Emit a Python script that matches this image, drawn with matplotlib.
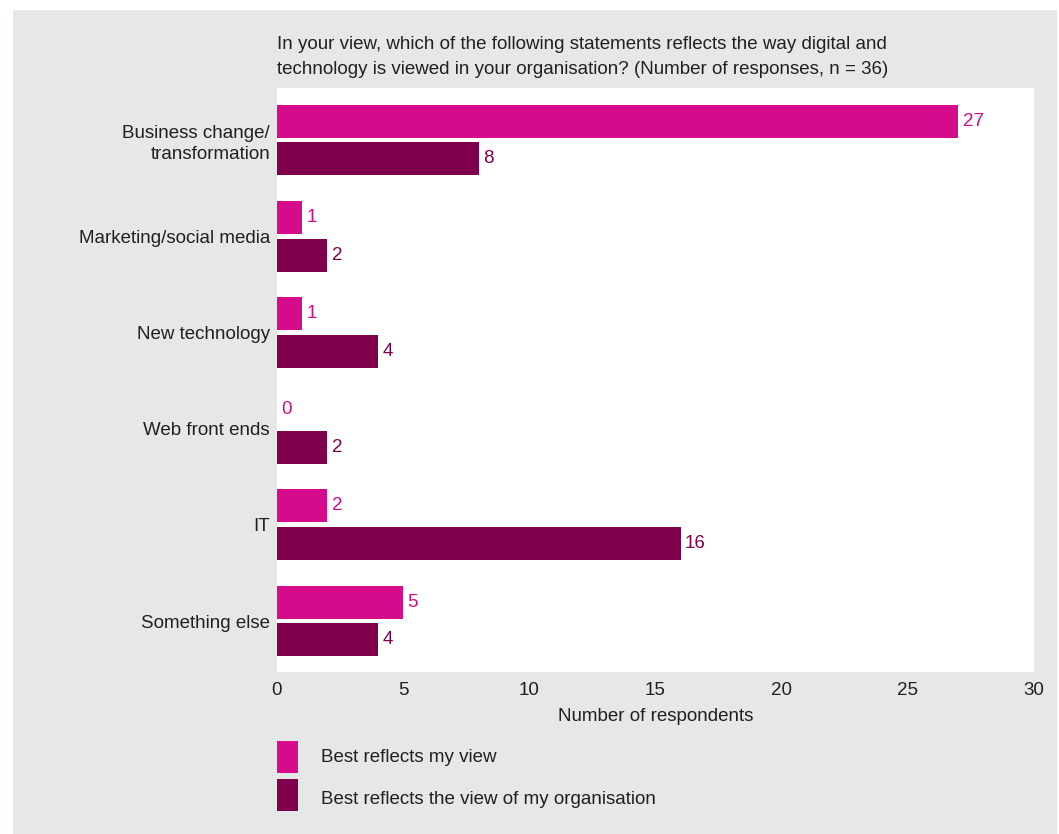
import numpy as np
import matplotlib.pyplot as plt
from matplotlib.patches import Rectangle

plt.rcParams['font.family'] = ['Liberation Sans', 'DejaVu Sans']

categories = ['Business change/\ntransformation', 'Marketing/social media',
              'New technology', 'Web front ends', 'IT', 'Something else']
my_view = [27, 1, 1, 0, 2, 5]
org_view = [8, 2, 4, 2, 16, 4]
series_names = ['Best reflects my view', 'Best reflects the view of my organisation']
x_ticks = [0, 5, 10, 15, 20, 25, 30]

pink = '#d60b8c'
plum = '#80004c'
panel = '#e6e7e7'
ink = '#231f20'
fs = 13.5

W, H = 1059, 834
fig = plt.figure(figsize=(W / 100, H / 100), dpi=100, facecolor='white')
# grey backing panel
fig.patches.append(Rectangle((13 / W, 0), (1057 - 13) / W, 1 - 10 / H,
                             transform=fig.transFigure, facecolor=panel,
                             edgecolor='none', zorder=-5))

ax = fig.add_axes([277 / W, 1 - 672 / H, (1034 - 277) / W, (672 - 88) / H])
ax.set_facecolor('white')

y = np.arange(len(categories))
h = 0.343
off = 0.197
b1 = ax.barh(y - off, my_view, height=h, color=pink, label=series_names[0])
b2 = ax.barh(y + off, org_view, height=h, color=plum, label=series_names[1])

for bars, vals, c in [(b1, my_view, pink), (b2, org_view, plum)]:
    for bar, v in zip(bars, vals):
        ax.text(v + 0.17, bar.get_y() + bar.get_height() / 2, str(v),
                color=c, fontsize=fs, va='center', ha='left')

ax.set_xlim(0, 30)
ax.set_ylim(5.53, -0.54)
ax.set_xticks(x_ticks)
ax.set_yticks(y)
ax.set_yticklabels(categories, ha='right', multialignment='right',
                   linespacing=1.3)
ax.tick_params(axis='both', length=0, labelsize=fs, colors=ink)
ax.tick_params(axis='x', pad=7)
ax.tick_params(axis='y', pad=5)
for s in ax.spines.values():
    s.set_visible(False)
ax.set_xlabel('Number of respondents', fontsize=fs, color=ink, labelpad=7)

fig.text(277 / W, 1 - 36 / H,
         'In your view, which of the following statements reflects the way digital and\n'
         'technology is viewed in your organisation? (Number of responses, n = 36)',
         fontsize=fs, color=ink, ha='left', va='top', linespacing=1.58)

# legend: colour swatches with labels
for top, ty, c, name in [(741, 757, pink, series_names[0]),
                         (779, 800, plum, series_names[1])]:
    fig.patches.append(Rectangle((277 / W, 1 - (top + 32) / H), 21 / W, 32 / H,
                                 transform=fig.transFigure, facecolor=c,
                                 edgecolor='none'))
    fig.text(321 / W, 1 - ty / H, name, fontsize=fs, color=ink,
             ha='left', va='center')

fig.savefig('out.png', dpi=100, facecolor=fig.get_facecolor())
